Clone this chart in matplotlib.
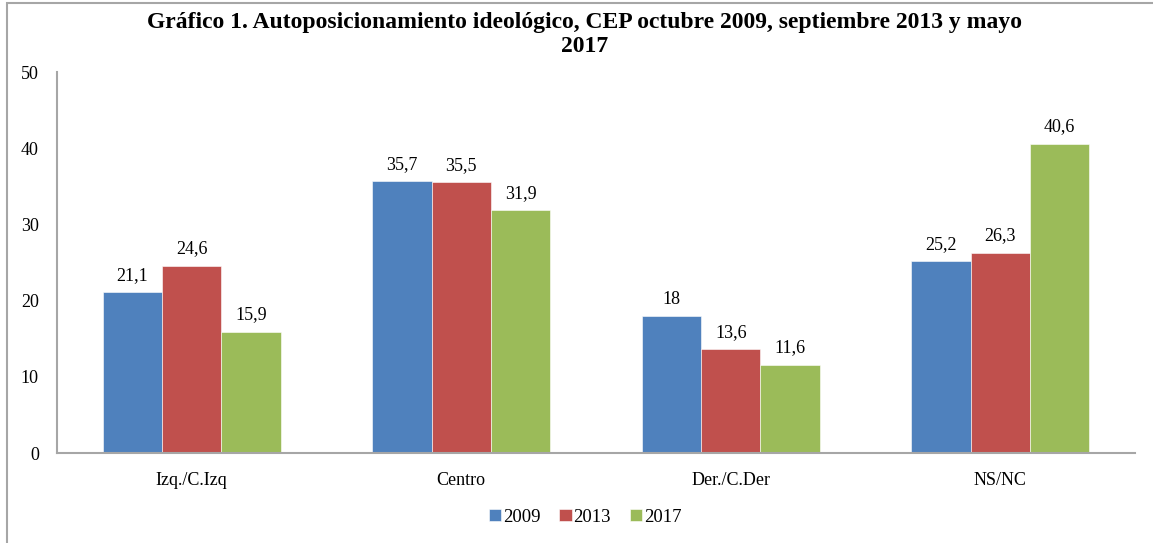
import numpy as np
import matplotlib.pyplot as plt
from matplotlib.patches import Rectangle

# Autoposicionamiento ideologico, CEP 2009 / 2013 / 2017

categorias = ['Izq./C.Izq', 'Centro', 'Der./C.Der', 'NS/NC']
anios = ['2009', '2013', '2017']
v2009 = [21.1, 35.7, 18, 25.2]
v2013 = [24.6, 35.5, 13.6, 26.3]
v2017 = [15.9, 31.9, 11.6, 40.6]
etiquetas = [['21,1', '35,7', '18', '25,2'],
             ['24,6', '35,5', '13,6', '26,3'],
             ['15,9', '31,9', '11,6', '40,6']]
colores = ['#4F81BD', '#C0504D', '#9BBB59']

plt.rcParams['font.family'] = ['Liberation Serif', 'DejaVu Serif']

fig = plt.figure(figsize=(11.53, 5.43), dpi=100)
ax = fig.add_axes([0.0494, 0.1657, 0.935, 0.7017])

x = np.arange(len(categorias))
w = 0.22
series = [v2009, v2013, v2017]
for i, vals in enumerate(series):
    bars = ax.bar(x + (i - 1) * w, vals, w, color=colores[i], label=anios[i],
                  edgecolor='white', linewidth=0.4)
    for b, t in zip(bars, etiquetas[i]):
        ax.annotate(t, (b.get_x() + b.get_width() / 2, b.get_height()),
                    xytext=(0, 6), textcoords='offset points',
                    ha='center', va='bottom', fontsize=13)

ax.set_xlim(-0.5, 3.5)
ax.set_ylim(0, 50)
ax.set_yticks(range(0, 51, 10))
ax.set_xticks(x)
ax.set_xticklabels(categorias)
ax.tick_params(axis='both', length=0, labelsize=13)
ax.tick_params(axis='y', pad=13)
ax.tick_params(axis='x', pad=14)
for s in ['top', 'right']:
    ax.spines[s].set_visible(False)
for s in ['left', 'bottom']:
    ax.spines[s].set_color('#a6a6a6')
    ax.spines[s].set_linewidth(1.5)

fig.suptitle('Gráfico 1. Autoposicionamiento ideológico, CEP octubre 2009, septiembre 2013 y mayo\n2017',
             x=0.507, y=0.978, fontsize=17, fontweight='bold', linespacing=1.2)

ax.legend(loc='center', bbox_to_anchor=(0.49, -0.1685), ncol=3, frameon=False,
          fontsize=13.5, handlelength=0.65, handleheight=0.65, handletextpad=0.1,
          columnspacing=1.0)

# marco del grafico
fig.patches.append(Rectangle((7 / 1153, -0.01), 1.1, 1.0045, transform=fig.transFigure,
                             fill=False, edgecolor='#a6a6a6', linewidth=1.5))

fig.savefig('out.png', dpi=100)
